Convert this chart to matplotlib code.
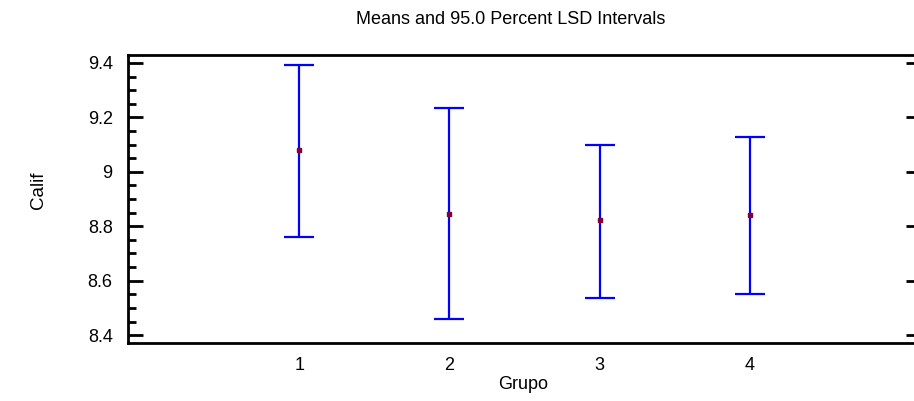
import matplotlib
matplotlib.use("Agg")
import matplotlib.pyplot as plt
from matplotlib.ticker import MultipleLocator

plt.rcParams["font.family"] = ["Liberation Sans", "DejaVu Sans"]

# group means and 95% LSD interval limits
groups = [1, 2, 3, 4]
means = [9.080, 8.845, 8.822, 8.841]
lower = [8.760, 8.460, 8.537, 8.551]
upper = [9.393, 9.236, 9.099, 9.128]
yticks = [8.4, 8.6, 8.8, 9.0, 9.2, 9.4]
ytick_labels = ["8.4", "8.6", "8.8", "9", "9.2", "9.4"]

fig = plt.figure(figsize=(9.14, 4.01), dpi=100)
ax = fig.add_axes([0.140, 0.1446, 0.8677, 0.7182])

err = [[m - lo for m, lo in zip(means, lower)],
       [hi - m for m, hi in zip(means, upper)]]
ax.errorbar(groups, means, yerr=err, fmt="none", ecolor="#0000ff",
            elinewidth=1.6, capsize=11, capthick=1.6)
ax.plot(groups, means, "s", color="#80003a", markersize=2.8, zorder=3)

ax.set_xlim(-0.14, 5.14)
ax.set_ylim(8.371, 9.429)
ax.set_xticks(groups)
ax.set_yticks(yticks)
ax.set_yticklabels(ytick_labels)
ax.yaxis.set_minor_locator(MultipleLocator(0.05))

for s in ax.spines.values():
    s.set_linewidth(2.0)

ax.tick_params(axis="y", which="major", direction="in", length=11, width=2.0,
               left=True, right=True, labelsize=13, pad=11)
ax.tick_params(axis="y", which="minor", direction="in", length=6, width=2.0,
               left=True, right=False)
ax.tick_params(axis="x", length=0, labelsize=13, pad=10)

ax.set_title("Means and 95.0 Percent LSD Intervals", fontsize=13, pad=22,
             x=0.482)
ax.set_xlabel("Grupo", fontsize=13)
ax.set_ylabel("Calif", fontsize=13.5)
ax.xaxis.set_label_coords(0.498, -0.115)
ax.yaxis.set_label_coords(-0.102, 0.53)

fig.savefig("out.png", dpi=100)
